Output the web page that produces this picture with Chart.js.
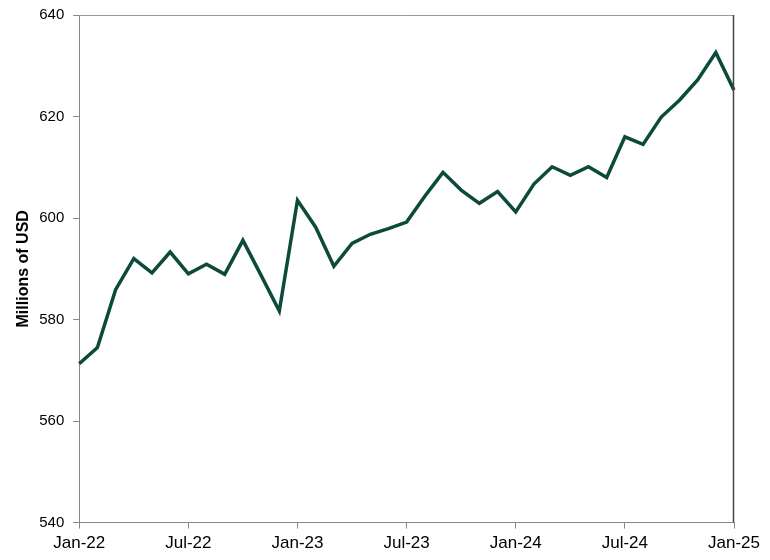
<!DOCTYPE html>
<html>
<head>
<meta charset="utf-8">
<script src="https://cdn.jsdelivr.net/npm/chart.js@4"></script>
<style>
  html, body { margin: 0; padding: 0; background: #fff; }
  #wrap { width: 770px; height: 560px; }
</style>
</head>
<body>
<div id="wrap"><canvas id="myChart"></canvas></div>
<script>
// месяцы Jan-22 .. Jan-25
const months = [
  'Jan-22','Feb-22','Mar-22','Apr-22','May-22','Jun-22','Jul-22','Aug-22','Sep-22','Oct-22','Nov-22','Dec-22',
  'Jan-23','Feb-23','Mar-23','Apr-23','May-23','Jun-23','Jul-23','Aug-23','Sep-23','Oct-23','Nov-23','Dec-23',
  'Jan-24','Feb-24','Mar-24','Apr-24','May-24','Jun-24','Jul-24','Aug-24','Sep-24','Oct-24','Nov-24','Dec-24',
  'Jan-25'
];

// значения, millions of USD
const values = [
  571.3, 574.5, 585.9, 592.0, 589.2, 593.3, 589.0, 590.9, 588.9, 595.6, 588.7, 581.7,
  603.5, 598.2, 590.5, 595.0, 596.8, 597.9, 599.2, 604.3, 609.0, 605.5, 602.9, 605.2,
  601.2, 606.7, 610.1, 608.4, 610.1, 608.0, 616.0, 614.5, 619.9, 623.2, 627.2, 632.6,
  625.2
];

const yTicks = [540, 560, 580, 600, 620, 640];

/* рамка сверху и справа от области графика */
const frame = {
  id: 'frame',
  afterDraw(chart) {
    const a = chart.chartArea, ctx = chart.ctx;
    ctx.save();
    ctx.lineWidth = 1;
    ctx.strokeStyle = '#999';
    ctx.beginPath();
    ctx.moveTo(a.left, a.top + 0.5);
    ctx.lineTo(a.right, a.top + 0.5);
    ctx.stroke();
    ctx.strokeStyle = '#444';
    ctx.lineWidth = 1.5;
    ctx.beginPath();
    ctx.moveTo(a.right - 0.5, a.top);
    ctx.lineTo(a.right - 0.5, a.bottom);
    ctx.stroke();
    ctx.restore();
  }
};

const family = 'Liberation Sans, Arial, sans-serif';

const chart = new Chart(document.getElementById('myChart'), {
  type: 'line',
  data: {
    labels: months,
    datasets: [{
      data: values,
      borderColor: '#0c4a3b',
      borderWidth: 3.5,
      pointRadius: 0,
      tension: 0,
      fill: false
    }]
  },
  options: {
    responsive: true,
    maintainAspectRatio: false,
    animation: false,
    layout: { padding: { top: 7, right: 36, left: 14, bottom: 1 } },
    plugins: { legend: { display: false }, tooltip: { enabled: false } },
    scales: {
      x: {
        offset: false,
        border: { color: '#888', width: 1 },
        grid: { drawOnChartArea: false, drawTicks: true, tickLength: 6, color: '#888' },
        ticks: {
          autoSkip: false,
          maxRotation: 0,
          color: '#000',
          font: { family: family, size: 17 },
          padding: 5,
          callback: (v, i) => (i % 6 === 0 ? months[i] : null)
        }
      },
      y: {
        min: 540,
        max: 640,
        afterBuildTicks: (axis) => { axis.ticks = yTicks.map(v => ({ value: v })); },
        border: { color: '#888', width: 1 },
        grid: { drawOnChartArea: false, drawTicks: true, tickLength: 6, color: '#888' },
        ticks: { color: '#000', font: { family: family, size: 15, lineHeight: 0.8 }, padding: 9 },
        title: {
          display: true,
          text: 'Millions of USD',
          color: '#000',
          font: { family: family, size: 16, weight: 'bold' },
          padding: { top: 0, bottom: -3 }
        }
      }
    }
  },
  plugins: [frame]
});
</script>
</body>
</html>
